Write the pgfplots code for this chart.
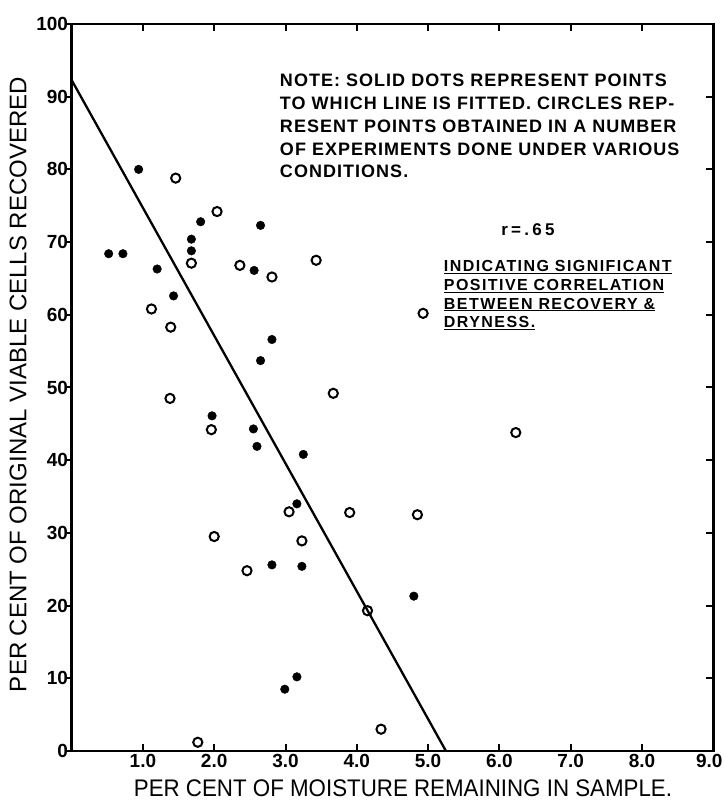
\documentclass[border=0pt]{standalone}
\usepackage{fontspec}
\setmainfont{Liberation Sans}
\newfontfamily\notefont[LetterSpace=5.7]{Liberation Sans}
\newfontfamily\indfont[LetterSpace=9]{Liberation Sans}
\newfontfamily\rfont[LetterSpace=19]{Liberation Sans}
\newfontfamily\xlabfont[FakeStretch=0.93]{Liberation Sans}
\usepackage{pgfplots}
\pgfplotsset{compat=1.18}
\begin{document}
\begin{tikzpicture}
\begin{axis}[
  name=main,
  scale only axis, width=641.7pt, height=727pt,
  xmin=0, xmax=9, ymin=0, ymax=100,
  axis line style={line width=2.6pt},
  tick align=inside,
  major tick length=7pt,
  tick style={line width=2pt, black},
  xtick={1,...,9},
  xticklabels={1.0,2.0,3.0,4.0,5.0,6.0,7.0,8.0,{}},
  ytick={0,10,...,100},
  ytick pos=right, yticklabel pos=left,
  ticklabel style={font=\bfseries\fontsize{19pt}{19pt}\selectfont},
  /pgf/number format/assume math mode=true,
  clip=false,
]
% solid dots: points to which the line is fitted
\addplot[only marks, mark=*, mark size=4.3pt, mark options={fill=black, draw=black}] coordinates {
 (0.94,80.0) (0.52,68.4) (0.72,68.4) (1.20,66.3) (1.43,62.6)
 (1.68,70.4) (1.68,68.8) (1.81,72.8) (2.65,72.3) (2.56,66.1)
 (2.81,56.6) (2.65,53.7) (1.97,46.1) (2.55,44.3) (2.60,41.9)
 (3.25,40.8) (3.16,34.0) (2.81,25.6) (3.23,25.4) (3.16,10.2)
 (2.99,8.5) (4.80,21.3)
};
% circles: other experiments
\addplot[only marks, mark=o, mark size=4.6pt, mark options={line width=2pt, draw=black}] coordinates {
 (1.46,78.8) (2.04,74.2) (1.68,67.1) (2.36,66.8) (2.81,65.2)
 (3.43,67.5) (1.12,60.8) (1.39,58.3) (3.67,49.2) (1.38,48.5)
 (1.96,44.2) (2.00,29.5) (2.46,24.8) (3.05,32.9) (3.23,28.9)
 (3.90,32.8) (4.15,19.3) (1.77,1.2) (6.23,43.8) (4.85,32.5)
 (4.34,3.0) (4.93,60.2)
};
% fitted line
\addplot[line width=2.3pt, black] coordinates {(0,92.3) (5.25,0)};

\node[anchor=north, xshift=-4pt, font=\bfseries\fontsize{19pt}{19pt}\selectfont] at (axis cs:9,0) {9.0};
\node[anchor=north west, inner sep=0pt, align=left,
      font=\notefont\bfseries\fontsize{18pt}{22.7pt}\selectfont] at (axis cs:2.92,93.1)
 {NOTE: SOLID DOTS REPRESENT POINTS\\
  TO WHICH LINE IS FITTED. CIRCLES REP-\\
  RESENT POINTS OBTAINED IN A NUMBER\\
  OF EXPERIMENTS DONE UNDER VARIOUS\\
  CONDITIONS.};
\node[font=\rfont\bfseries\fontsize{17pt}{17pt}\selectfont] at (axis cs:6.40,71.7) {r=.65};
\node[anchor=north west, inner sep=0pt, align=left,
      font=\indfont\bfseries\fontsize{16pt}{18.7pt}\selectfont] at (axis cs:5.22,67.5)
 {\underline{INDICATING SIGNIFICANT}\\
  \underline{POSITIVE CORRELATION}\\
  \underline{BETWEEN RECOVERY \&}\\
  \underline{DRYNESS.}};
\node[font=\xlabfont\fontsize{24pt}{24pt}\selectfont] at (rel axis cs:0.5164,-0.0509)
 {PER CENT OF MOISTURE REMAINING IN SAMPLE.};
\node[rotate=90, font=\fontsize{24pt}{24pt}\selectfont] at (rel axis cs:-0.0835,0.504)
 {PER CENT OF ORIGINAL VIABLE CELLS RECOVERED};
\end{axis}
\begin{axis}[
  scale only axis, width=641.7pt, height=727pt,
  xmin=0, xmax=9, ymin=0, ymax=100,
  axis line style={draw=none},
  xtick=\empty,
  ytick={0,10,...,100}, yticklabels={},
  ytick pos=left, tick align=outside,
  major tick length=5pt,
  tick style={line width=2pt, black},
]
\end{axis}
\pgfresetboundingbox
\path ([shift={(-71.6pt,-49pt)}]main.south west) rectangle ([shift={(10.7pt,24pt)}]main.north east);
\end{tikzpicture}
\end{document}
